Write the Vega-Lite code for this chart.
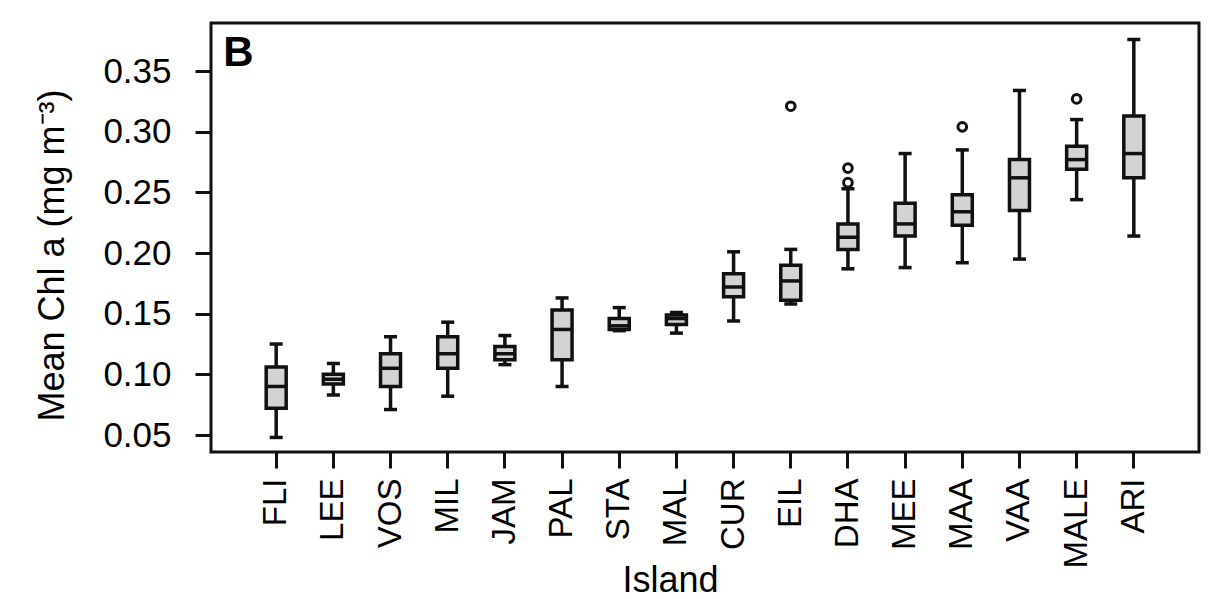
{
  "$schema": "https://vega.github.io/schema/vega-lite/v6.json",
  "autosize": {"type": "none"},
  "width": 988,
  "height": 429,
  "padding": {"left": 211, "top": 23, "right": 25, "bottom": 147},
  "background": "white",
  "config": {
    "view": {"stroke": "#111111", "strokeWidth": 3, "fill": "white"},
    "axis": {"labelFont": "Liberation Sans", "labelFontSize": 33, "labelColor": "black", "titleFont": "Liberation Sans", "titleFontSize": 36, "titleFontWeight": "normal", "titleColor": "black", "tickColor": "#111111", "tickWidth": 3, "tickSize": 16, "domain": false, "grid": false}
  },
  "datasets": {
    "boxes": [
      {"island": "FLI", "lower": 0.048, "q1": 0.072, "median": 0.090, "q3": 0.106, "upper": 0.125},
      {"island": "LEE", "lower": 0.083, "q1": 0.092, "median": 0.096, "q3": 0.100, "upper": 0.109},
      {"island": "VOS", "lower": 0.071, "q1": 0.090, "median": 0.105, "q3": 0.117, "upper": 0.131},
      {"island": "MIL", "lower": 0.082, "q1": 0.105, "median": 0.117, "q3": 0.131, "upper": 0.143},
      {"island": "JAM", "lower": 0.108, "q1": 0.112, "median": 0.117, "q3": 0.123, "upper": 0.132},
      {"island": "PAL", "lower": 0.090, "q1": 0.112, "median": 0.137, "q3": 0.153, "upper": 0.163},
      {"island": "STA", "lower": 0.136, "q1": 0.137, "median": 0.140, "q3": 0.146, "upper": 0.155},
      {"island": "MAL", "lower": 0.134, "q1": 0.141, "median": 0.146, "q3": 0.149, "upper": 0.151},
      {"island": "CUR", "lower": 0.144, "q1": 0.164, "median": 0.172, "q3": 0.183, "upper": 0.201},
      {"island": "EIL", "lower": 0.158, "q1": 0.161, "median": 0.177, "q3": 0.190, "upper": 0.203},
      {"island": "DHA", "lower": 0.187, "q1": 0.203, "median": 0.213, "q3": 0.224, "upper": 0.253},
      {"island": "MEE", "lower": 0.188, "q1": 0.214, "median": 0.224, "q3": 0.241, "upper": 0.282},
      {"island": "MAA", "lower": 0.192, "q1": 0.223, "median": 0.234, "q3": 0.248, "upper": 0.285},
      {"island": "VAA", "lower": 0.195, "q1": 0.235, "median": 0.262, "q3": 0.277, "upper": 0.334},
      {"island": "MALE", "lower": 0.244, "q1": 0.269, "median": 0.277, "q3": 0.288, "upper": 0.310},
      {"island": "ARI", "lower": 0.214, "q1": 0.262, "median": 0.282, "q3": 0.313, "upper": 0.376}
    ],
    "outliers": [
      {"island": "EIL", "value": 0.321},
      {"island": "DHA", "value": 0.270},
      {"island": "DHA", "value": 0.258},
      {"island": "MAA", "value": 0.304},
      {"island": "MALE", "value": 0.327}
    ],
    "panel": [
      {"island": "FLI", "value": 0.354, "label": "B"}
    ]
  },
  "encoding": {
    "x": {
      "field": "island", "type": "nominal",
      "sort": ["FLI", "LEE", "VOS", "MIL", "JAM", "PAL", "STA", "MAL", "CUR", "EIL", "DHA", "MEE", "MAA", "VAA", "MALE", "ARI"],
      "scale": {"type": "band", "paddingInner": 0, "paddingOuter": 0.64},
      "axis": {"title": "Island", "labelAngle": -90, "labelPadding": 10, "titleBaseline": "alphabetic", "titleY": 139, "titleX": 459, "titleAlign": "center"}
    }
  },
  "layer": [
    {
      "data": {"name": "boxes"},
      "mark": {"type": "rule", "color": "#111111", "strokeWidth": 3.5},
      "encoding": {
        "y": {"field": "lower", "type": "quantitative", "scale": {"domain": [0.036, 0.3896], "nice": false, "zero": false},
          "axis": {"title": "Mean Chl a (mg m⁻³)", "values": [0.05, 0.1, 0.15, 0.2, 0.25, 0.3, 0.35], "format": ".2f", "labelPadding": 24, "labelFontSize": 35, "titleX": -140, "titleY": 232}},
        "y2": {"field": "upper"}
      }
    },
    {
      "data": {"name": "boxes"},
      "mark": {"type": "tick", "color": "#111111", "thickness": 3.5, "size": 13, "opacity": 1},
      "encoding": {"y": {"field": "lower", "type": "quantitative"}}
    },
    {
      "data": {"name": "boxes"},
      "mark": {"type": "tick", "color": "#111111", "thickness": 3.5, "size": 13, "opacity": 1},
      "encoding": {"y": {"field": "upper", "type": "quantitative"}}
    },
    {
      "data": {"name": "boxes"},
      "mark": {"type": "bar", "size": 20, "fill": "#d3d3d3", "stroke": "#111111", "strokeWidth": 3.5},
      "encoding": {"y": {"field": "q1", "type": "quantitative"}, "y2": {"field": "q3"}}
    },
    {
      "data": {"name": "boxes"},
      "mark": {"type": "tick", "color": "#111111", "thickness": 3.5, "size": 20, "opacity": 1},
      "encoding": {"y": {"field": "median", "type": "quantitative"}}
    },
    {
      "data": {"name": "outliers"},
      "mark": {"type": "point", "shape": "circle", "filled": false, "color": "#111111", "strokeWidth": 3, "size": 75, "opacity": 1},
      "encoding": {"y": {"field": "value", "type": "quantitative"}}
    },
    {
      "data": {"name": "panel"},
      "mark": {"type": "text", "font": "Liberation Sans", "fontSize": 42, "fontWeight": "bold", "color": "black", "align": "left", "baseline": "alphabetic", "dx": -53},
      "encoding": {"y": {"field": "value", "type": "quantitative"}, "text": {"field": "label"}}
    }
  ]
}
